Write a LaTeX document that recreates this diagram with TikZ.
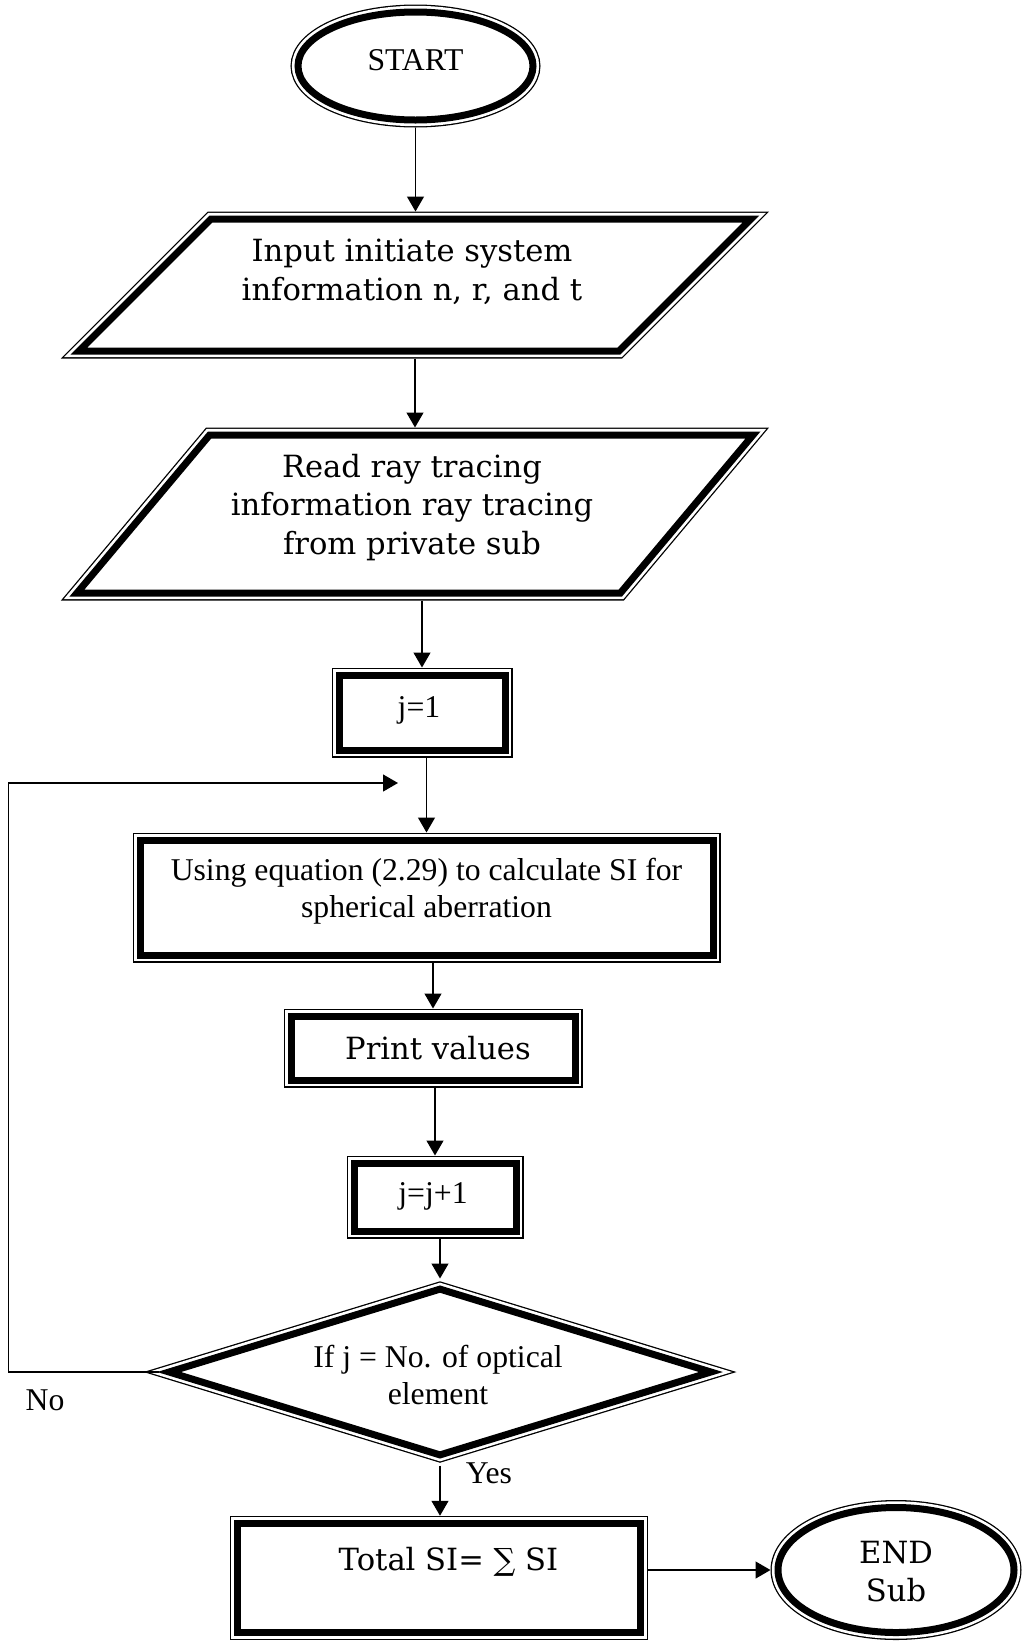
\documentclass[tikz,border=0pt]{standalone}
\usepackage{fontspec}
\setmainfont{Liberation Serif}
\newfontfamily\bookfont{DejaVu Serif}
\usetikzlibrary{shapes.geometric, arrows.meta}

\begin{document}
\begin{tikzpicture}[x=1pt, y=-1pt,
  tnr/.style={font=\fontsize{31.7}{37}\selectfont, inner sep=0pt},
  bkm/.style={font=\bookfont\fontsize{30.6}{38.8}\selectfont, inner sep=0pt},
  % thin outer line, white gap, heavy inner line
  dblframe/.style={draw, line width=7pt, fill=white, inner sep=0pt, outer sep=7.5pt,
    preaction={draw, line width=15pt},
    preaction={draw=white, line width=12.4pt}},
  procbox/.style={dblframe, rectangle},
  terminal/.style={dblframe, ellipse},
  decision/.style={dblframe, diamond},
  arr/.style={line width=1.3pt, -{Triangle[length=15pt, width=17pt]}},
]
\useasboundingbox (0,0) rectangle (1024,1644);

% terminals, boxes and decision
\node[terminal, minimum width=235pt, minimum height=108pt] (start) at (415.5,66) {};
\node[procbox, minimum width=166pt, minimum height=75pt] (j1) at (422,712.5) {};
\node[procbox, minimum width=573pt, minimum height=115pt] (calc) at (426.5,897.5) {};
\node[procbox, minimum width=284pt, minimum height=64pt] (print) at (433,1048) {};
\node[procbox, minimum width=162pt, minimum height=68pt] (jj) at (435,1197) {};
\node[decision, minimum width=548pt, minimum height=172pt] (dec) at (440,1372) {};
\node[procbox, minimum width=403pt, minimum height=109.5pt] (total) at (439,1578) {};
\node[terminal, minimum width=236pt, minimum height=125pt] (stop) at (896,1570) {};

% input/output parallelograms
\draw[dblframe] (79,351) -- (211,219) -- (751,219) -- (619,351) -- cycle;
\coordinate (in1n) at (415,211.5);
\coordinate (in1s) at (415,358.5);
\draw[dblframe] (77,593) -- (209.6,435) -- (753,435) -- (620.4,593) -- cycle;
\coordinate (in2n) at (415,427.5);
\coordinate (in2s) at (415,600.5);

% texts
\node[tnr] (startt) at (415.5,60.5) {START};
\node[bkm, align=center] (in1t) at (412,272) {Input initiate system\\information n, r, and t};
\node[bkm, align=center] (in2t) at (412,507.5) {Read ray tracing\\information ray tracing\\from private sub};
\node[tnr] (j1t) at (419,710.5) {j=1};
\node[tnr, align=center] (calct) at (426.5,891) {Using equation (2.29) to calculate SI for\\spherical aberration};
\node[bkm] (printt) at (438,1048) {Print values};
\node[tnr] (jjt) at (433,1196) {j=j+1};
\node[tnr, align=center] (dect) at (438,1375) {If j = No. of optical\\element};
\node[bkm] (totalt) at (448.5,1561.5) {Total SI= ∑ SI};
\node[bkm, align=center] (stopt) at (896,1571.5) {END\\Sub};
\node[tnr] (no) at (45,1400) {No};
\node[tnr] (yes) at (489,1473.5) {Yes};

% connectors
\draw[arr] (start.south) -- (start.south |- in1n);
\draw[arr] (in1s) -- (in2n);
\draw[arr] (j1.north |- in2s) -- (j1.north);
\draw[arr] (calc.north |- j1.south) -- (calc.north);
\draw[arr] (print.north |- calc.south) -- (print.north);
\draw[arr] (jj.north |- print.south) -- (jj.north);
\draw[arr] (dec.north |- jj.south) -- (dec.north);
\draw[arr] (dec.south) -- (dec.south |- total.north);
\draw[arr] (stop.west -| total.east) -- (stop.west);

% loop back for the "No" branch
\coordinate (loopx) at (8.4,783);
\coordinate (loopend) at (398,783);
\draw[arr] (dec.west) -| (loopx) -- (loopend);
\end{tikzpicture}
\end{document}
